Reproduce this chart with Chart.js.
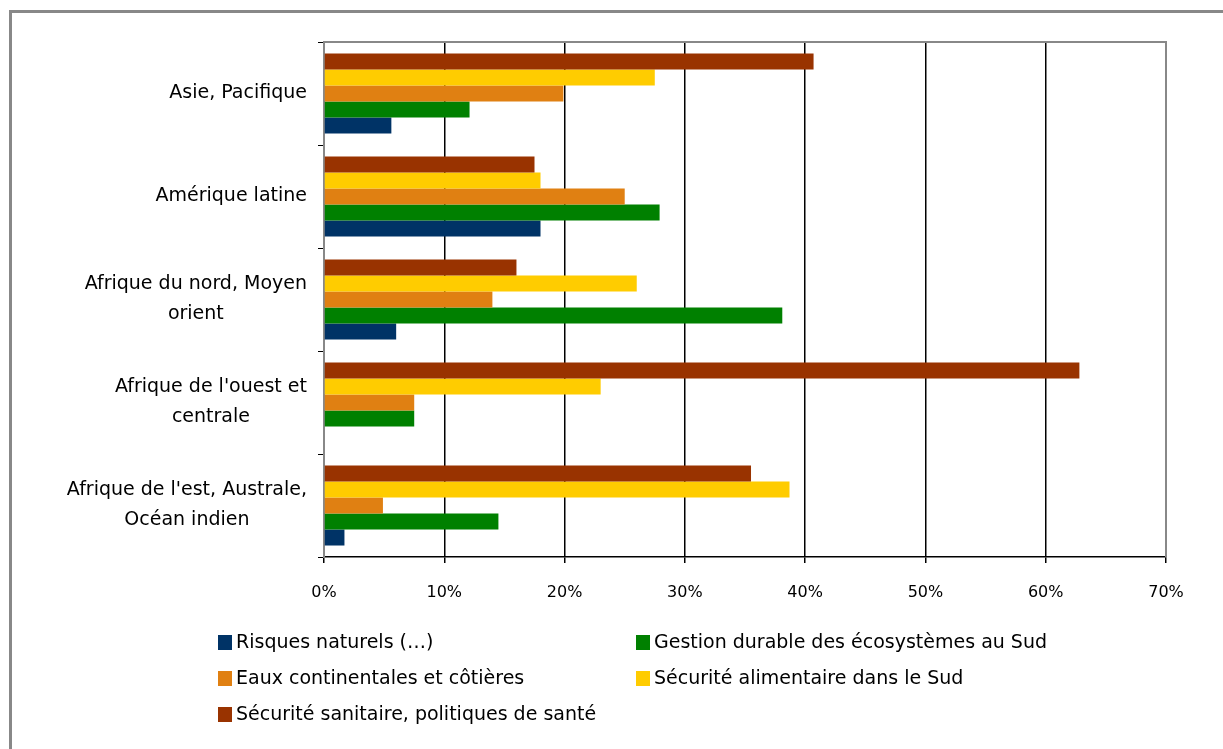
<!DOCTYPE html>
<html>
<head>
<meta charset="utf-8">
<script src="https://cdn.jsdelivr.net/npm/chart.js@4"></script>
<style>
body { margin: 0; background: #fff; width: 1223px; height: 749px; overflow: hidden; position: relative; font-family: "DejaVu Sans", sans-serif; }
#frame { position: absolute; left: 9px; top: 10px; width: 1300px; height: 800px; border-top: 3px solid #888; border-left: 3px solid #888; }
#chart { position: absolute; left: 0; top: 0; }
.item { position: absolute; font-size: 19px; color: #000; white-space: nowrap; line-height: 20px; }
.sw { display: inline-block; width: 14px; height: 15px; vertical-align: -2px; margin-right: 4px; }
</style>
</head>
<body>
<div id="frame"></div>
<canvas id="chart" width="1223" height="749"></canvas>
<div id="legend"></div>
<script>
// regions, top to bottom
var regions = [
  "Asie, Pacifique",
  "Amérique latine",
  ["Afrique du nord, Moyen", "orient"],
  ["Afrique de l'ouest et", "centrale"],
  ["Afrique de l'est, Australe,", "Océan indien"]
];

// percent values per region
var risques = [5.6, 18.0, 6.0, 0, 1.7];
var gestion = [12.1, 27.9, 38.1, 7.5, 14.5];
var eaux = [19.9, 25.0, 14.0, 7.5, 4.9];
var secAlim = [27.5, 18.0, 26.0, 23.0, 38.7];
var secSante = [40.7, 17.5, 16.0, 62.8, 35.5];

var xTicks = [0, 10, 20, 30, 40, 50, 60, 70];

var series = [
  { label: "Risques naturels (…)", data: risques, color: "#003366" },
  { label: "Gestion durable des écosystèmes au Sud", data: gestion, color: "#008000" },
  { label: "Eaux continentales et côtières", data: eaux, color: "#E08012" },
  { label: "Sécurité alimentaire dans le Sud", data: secAlim, color: "#FFCC00" },
  { label: "Sécurité sanitaire, politiques de santé", data: secSante, color: "#993300" }
];

// region labels: lines centred on each other, block right-aligned
var yLabelPlugin = {
  id: "yLabels",
  afterDraw(chart) {
    var ctx = chart.ctx, y = chart.scales.y;
    ctx.save();
    ctx.font = '19px "DejaVu Sans"';
    ctx.fillStyle = "#000";
    ctx.textAlign = "center";
    ctx.textBaseline = "middle";
    regions.forEach((lab, i) => {
      var lines = Array.isArray(lab) ? lab : [lab];
      var w = Math.max(...lines.map(l => ctx.measureText(l).width));
      var cx = y.right - 17 - w / 2;
      var cy = y.getPixelForValue(i);
      lines.forEach((l, k) => ctx.fillText(l, cx, cy + (k - (lines.length - 1) / 2) * 30));
    });
    ctx.restore();
  }
};

// grey top and right edges of the plot area
var plotBorder = {
  id: "plotBorder",
  afterDraw(chart) {
    var a = chart.chartArea, ctx = chart.ctx;
    ctx.save();
    ctx.strokeStyle = "#888";
    ctx.lineWidth = 2;
    ctx.beginPath();
    ctx.moveTo(a.left, a.top);
    ctx.lineTo(a.right, a.top);
    ctx.lineTo(a.right, a.bottom);
    ctx.stroke();
    ctx.restore();
  }
};

var ctx = document.getElementById("chart");
new Chart(ctx, {
  type: "bar",
  data: {
    labels: regions.map(r => Array.isArray(r) ? r.join(" ") : r),
    datasets: series.slice().reverse().map(s => ({
      label: s.label,
      data: s.data,
      backgroundColor: s.color,
      borderWidth: 0,
      categoryPercentage: 0.777,
      barPercentage: 1
    }))
  },
  options: {
    indexAxis: "y",
    responsive: false,
    animation: false,
    layout: { padding: { top: 42, right: 57, bottom: 140, left: 0 } },
    plugins: { legend: { display: false }, tooltip: { enabled: false } },
    scales: {
      x: {
        type: "linear",
        min: xTicks[0],
        max: xTicks[xTicks.length - 1],
        afterBuildTicks: s => { s.ticks = xTicks.map(v => ({ value: v })); },
        afterFit: s => { s.height = 52; },
        ticks: {
          callback: v => v + "%",
          color: "#000",
          padding: 20,
          font: { family: "DejaVu Sans", size: 16 }
        },
        grid: { z: -1, color: "#000", lineWidth: 1.5, tickLength: 6, tickColor: "#000" },
        border: { color: "#000", width: 1.5 }
      },
      y: {
        type: "category",
        offset: true,
        afterFit: s => { s.width = 324; },
        ticks: { display: false },
        grid: { z: -1, offset: true, drawOnChartArea: false, color: "#000", tickLength: 6 },
        border: { color: "#888", width: 2 }
      }
    }
  },
  plugins: [yLabelPlugin, plotBorder]
});

// legend in two columns, same order as the source
var legendPos = [[218, 631], [636, 631], [218, 667], [636, 667], [218, 703]];
var legend = document.getElementById("legend");
series.forEach((s, i) => {
  var d = document.createElement("div");
  d.className = "item";
  d.style.left = legendPos[i][0] + "px";
  d.style.top = legendPos[i][1] + "px";
  d.innerHTML = '<span class="sw" style="background:' + s.color + '"></span>' + s.label;
  legend.appendChild(d);
});
</script>
</body>
</html>
